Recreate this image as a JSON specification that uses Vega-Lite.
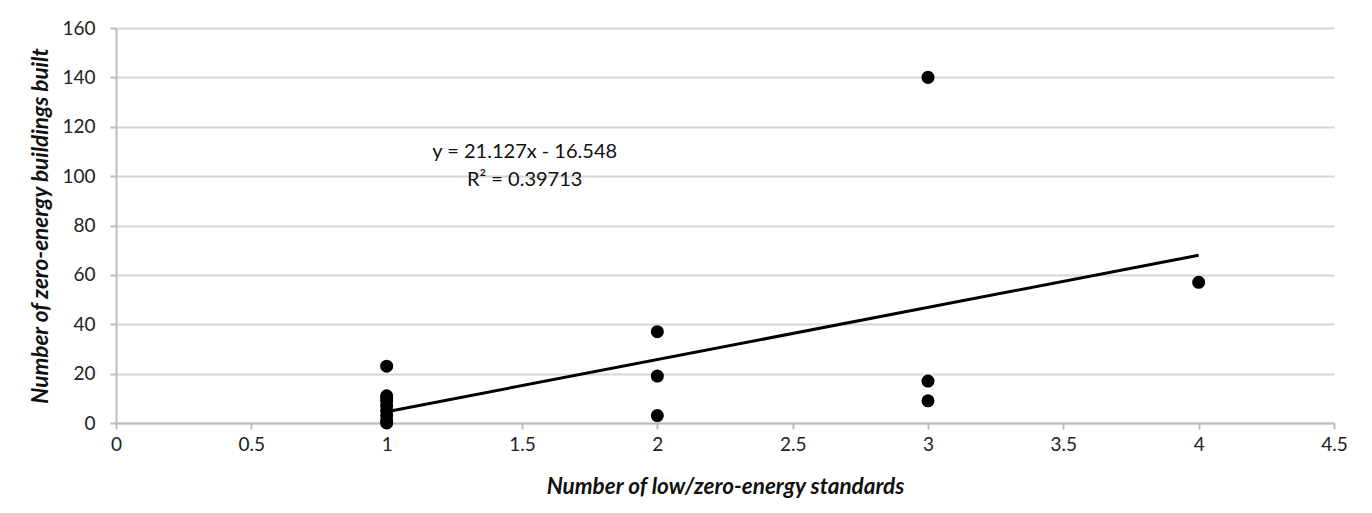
{
  "$schema": "https://vega.github.io/schema/vega-lite/v6.json",
  "autosize": {"type": "none"},
  "width": 1218,
  "height": 395,
  "padding": {"left": 116, "top": 28, "right": 38, "bottom": 90},
  "background": "white",
  "config": {
    "view": {"stroke": null},
    "font": "Lato",
    "axis": {
      "labelFont": "Lato",
      "labelFontSize": 19,
      "labelColor": "#222",
      "titleFont": "Lato",
      "titleFontSize": 22.5,
      "titleFontStyle": "italic",
      "titleFontWeight": "bold",
      "titleColor": "#111",
      "domainColor": "#bdbdbd",
      "domainWidth": 2,
      "tickColor": "#bdbdbd",
      "tickWidth": 2,
      "tickSize": 6,
      "gridColor": "#d6d6d6",
      "gridWidth": 2
    }
  },
  "datasets": {
    "points": [
      {"standards": 1, "buildings": 23},
      {"standards": 1, "buildings": 11},
      {"standards": 1, "buildings": 10},
      {"standards": 1, "buildings": 9},
      {"standards": 1, "buildings": 7},
      {"standards": 1, "buildings": 5},
      {"standards": 1, "buildings": 3},
      {"standards": 1, "buildings": 1},
      {"standards": 1, "buildings": 0},
      {"standards": 2, "buildings": 37},
      {"standards": 2, "buildings": 19},
      {"standards": 2, "buildings": 3},
      {"standards": 3, "buildings": 140},
      {"standards": 3, "buildings": 17},
      {"standards": 3, "buildings": 9},
      {"standards": 4, "buildings": 57}
    ],
    "trend": [
      {"standards": 1, "buildings": 4.579},
      {"standards": 4, "buildings": 67.96}
    ]
  },
  "layer": [
    {
      "data": {"name": "points"},
      "mark": {"type": "point", "filled": true, "color": "#000", "size": 170, "opacity": 1},
      "encoding": {
        "x": {
          "field": "standards", "type": "quantitative",
          "scale": {"domain": [0, 4.5], "nice": false},
          "axis": {"values": [0, 0.5, 1, 1.5, 2, 2.5, 3, 3.5, 4, 4.5], "format": "~g", "grid": false, "title": "Number of low/zero-energy standards", "labelPadding": 6, "titlePadding": 21, "labelFlush": false}
        },
        "y": {
          "field": "buildings", "type": "quantitative",
          "scale": {"domain": [0, 160], "nice": false},
          "axis": {"values": [0, 20, 40, 60, 80, 100, 120, 140, 160], "title": "Number of zero-energy buildings built", "labelPadding": 15, "titlePadding": 9, "labelFlush": false}
        }
      }
    },
    {
      "data": {"name": "trend"},
      "mark": {"type": "line", "color": "#000", "strokeWidth": 3},
      "encoding": {
        "x": {"field": "standards", "type": "quantitative"},
        "y": {"field": "buildings", "type": "quantitative"}
      }
    },
    {
      "data": {"values": [{}]},
      "mark": {"type": "text", "font": "Lato", "fontSize": 20, "color": "#111", "align": "center", "baseline": "middle", "lineHeight": 28},
      "encoding": {
        "x": {"datum": 1.51, "type": "quantitative"},
        "y": {"datum": 109.7, "type": "quantitative"},
        "text": {"value": ["y = 21.127x - 16.548", "R² = 0.39713"]}
      }
    }
  ]
}
